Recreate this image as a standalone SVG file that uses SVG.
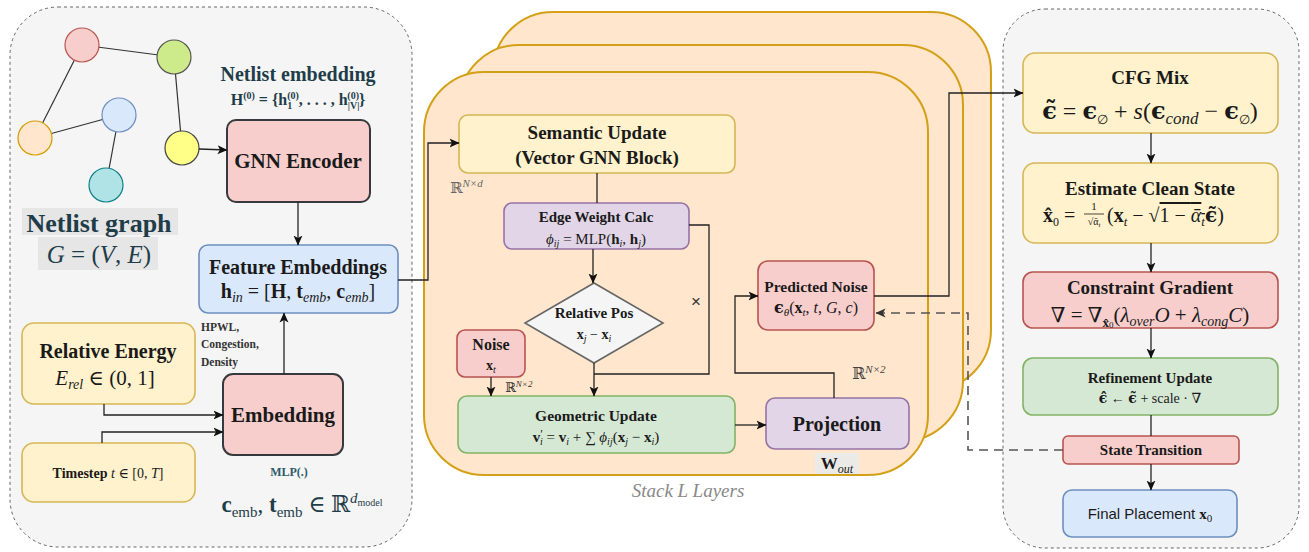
<svg xmlns="http://www.w3.org/2000/svg" width="1309" height="552" viewBox="0 0 1309 552">
<style>
.t{font-family:"Liberation Serif","DejaVu Serif",serif;fill:#1a1a1a}
.b{font-weight:bold}
.c{text-anchor:middle}
.i{font-style:italic}
.e{font-family:"DejaVu Serif",serif;font-weight:bold}
.sans{font-family:"Liberation Sans","DejaVu Sans",sans-serif;fill:#1a1a1a}
.panel{fill:#f5f5f5;stroke:#666;stroke-width:1;stroke-dasharray:3 3}
.layer{fill:#ffe6cc;stroke:#d4a017;stroke-width:2}
.yel{fill:#fff2cc;stroke:#d6b656;stroke-width:1.6}
.red{fill:#f8cecc;stroke:#b85450;stroke-width:1.6}
.redk{fill:#f8cecc;stroke:#36393d;stroke-width:2}
.blu{fill:#dae8fc;stroke:#6c8ebf;stroke-width:1.6}
.grn{fill:#d5e8d4;stroke:#82b366;stroke-width:1.6}
.pur{fill:#e1d5e7;stroke:#9673a6;stroke-width:1.6}
.edge{stroke:#333;stroke-width:1.2;fill:none}
.con{stroke:#222;stroke-width:1.3;fill:none}
.arr{marker-end:url(#ah)}
.dash{stroke:#555;stroke-width:1.6;fill:none;stroke-dasharray:9 6}
.teal{fill:#1f3d49}
</style>
<defs>
<marker id="ah" markerUnits="userSpaceOnUse" markerWidth="10" markerHeight="10" viewBox="0 0 10 10" refX="9.5" refY="5" orient="auto">
<path d="M0,0.5 L10,5 L0,9.5 L2.5,5 z" fill="#111"/>
</marker>
<marker id="ahd" markerUnits="userSpaceOnUse" markerWidth="10" markerHeight="10" viewBox="0 0 10 10" refX="9.5" refY="5" orient="auto">
<path d="M0,0.5 L10,5 L0,9.5 L2.5,5 z" fill="#333"/>
</marker>
</defs>

<!-- panels -->
<g id="left-panel"><rect class="panel" x="10" y="7" width="402" height="540" rx="48"/></g>
<g id="right-panel"><rect class="panel" x="1003" y="9" width="296" height="539" rx="42"/></g>

<!-- stacked layers -->
<g id="layers">
<rect class="layer" x="493" y="12" width="498" height="378" rx="60"/>
<rect class="layer" x="459" y="45" width="504" height="396" rx="60"/>
<rect class="layer" x="424" y="72" width="504" height="403" rx="60"/>
<text class="t i c" x="688" y="497" font-size="19" style="fill:#888">Stack L Layers</text>
</g>

<!-- netlist graph -->
<g id="netlist-graph">
<line class="edge" x1="82" y1="45" x2="174" y2="57"/>
<line class="edge" x1="82" y1="45" x2="35" y2="138"/>
<line class="edge" x1="35" y1="138" x2="119" y2="115"/>
<line class="edge" x1="119" y1="115" x2="106" y2="185"/>
<line class="edge" x1="174" y1="57" x2="182" y2="148"/>
<circle cx="82" cy="45" r="17" fill="#f8cecc" stroke="#b85450" stroke-width="1.2"/>
<circle cx="174" cy="57" r="17" fill="#cdeb8b" stroke="#555" stroke-width="1.2"/>
<circle cx="119" cy="115" r="17" fill="#dae8fc" stroke="#6c8ebf" stroke-width="1.2"/>
<circle cx="35" cy="138" r="17" fill="#ffe6cc" stroke="#d79b00" stroke-width="1.2"/>
<circle cx="182" cy="148" r="17" fill="#ffff88" stroke="#444" stroke-width="1.2"/>
<circle cx="106" cy="185" r="17" fill="#b0e3e6" stroke="#0e8088" stroke-width="1.2"/>
<rect x="22" y="208" width="156" height="27" fill="#e6e6e6"/>
<text class="t b c teal" x="99" y="232" font-size="26">Netlist graph</text>
<rect x="38" y="237" width="120" height="33" fill="#e6e6e6"/>
<text class="t c teal" x="99" y="263" font-size="25"><tspan class="i">G</tspan> = (<tspan class="i">V</tspan>, <tspan class="i">E</tspan>)</text>
</g>

<g id="netlist-embedding-label">
<text class="t b c teal" x="298" y="81" font-size="20">Netlist embedding</text>
<text class="t b c teal" x="298" y="105" font-size="16">H<tspan font-size="10" baseline-shift="6">(0)</tspan> = {h<tspan font-size="10" baseline-shift="-4">1</tspan><tspan font-size="10" dx="-5" baseline-shift="6">(0)</tspan>, . . . , h<tspan font-size="10" baseline-shift="-4">|V|</tspan><tspan font-size="10" dx="-12" baseline-shift="6">(0)</tspan>}</text>
</g>

<g id="gnn-encoder">
<rect class="redk" x="227" y="120" width="143" height="82" rx="9"/>
<text class="t b c" x="298" y="168" font-size="21">GNN Encoder</text>
</g>

<g id="feature-embeddings">
<rect class="blu" x="199" y="245" width="199" height="68" rx="9"/>
<text class="t b c" x="298" y="274" font-size="20">Feature Embeddings</text>
<text class="t c" x="298" y="298" font-size="20"><tspan class="b">h</tspan><tspan class="i" font-size="14" baseline-shift="-4">in</tspan> = [<tspan class="b">H</tspan>, <tspan class="b">t</tspan><tspan class="i" font-size="14" baseline-shift="-4">emb</tspan>, <tspan class="b">c</tspan><tspan class="i" font-size="14" baseline-shift="-4">emb</tspan>]</text>
</g>

<g id="relative-energy">
<rect class="yel" x="22" y="323" width="173" height="81" rx="12"/>
<text class="t b c" x="108" y="358" font-size="20">Relative Energy</text>
<text class="t c" x="105" y="385" font-size="21"><tspan class="i">E</tspan><tspan class="i" font-size="14" baseline-shift="-4">rel</tspan> ∈ (0, 1]</text>
</g>

<g id="timestep">
<rect class="yel" x="22" y="443" width="173" height="59" rx="12"/>
<text class="t b c" x="108" y="478" font-size="14">Timestep <tspan class="i" font-weight="normal">t</tspan> <tspan font-weight="normal">∈ [0, <tspan class="i">T</tspan>]</tspan></text>
</g>

<g id="embedding">
<rect class="redk" x="223" y="374" width="120" height="81" rx="10"/>
<text class="t b c" x="283" y="422" font-size="21">Embedding</text>
</g>

<g id="embedding-labels">
<text class="t b" x="201" y="331" font-size="11.5" style="fill:#333">HPWL,</text>
<text class="t b" x="201" y="348" font-size="11.5" style="fill:#333">Congestion,</text>
<text class="t b" x="201" y="366" font-size="11.5" style="fill:#333">Density</text>
<text class="t b c" x="289" y="476" font-size="12" style="fill:#2f5b6b">MLP(.)</text>
<text class="t c teal" x="302" y="512" font-size="23"><tspan class="b">c</tspan><tspan font-size="15" baseline-shift="-5">emb</tspan>, <tspan class="b">t</tspan><tspan font-size="15" baseline-shift="-5">emb</tspan> ∈ ℝ<tspan class="i" font-size="15" baseline-shift="9">d</tspan><tspan font-size="10" baseline-shift="6">model</tspan></text>
</g>

<g id="semantic-update">
<rect class="yel" x="459" y="115" width="276" height="58" rx="9"/>
<text class="t b c" x="597" y="139" font-size="19">Semantic Update</text>
<text class="t b c" x="597" y="164" font-size="19">(Vector GNN Block)</text>
</g>
<text class="t" x="450" y="193" font-size="15" style="fill:#666">ℝ<tspan class="i" font-size="11" baseline-shift="6">N×d</tspan></text>

<g id="edge-weight">
<rect class="pur" x="504" y="203" width="185" height="46" rx="8"/>
<text class="t b c" x="596" y="222" font-size="15">Edge Weight Calc</text>
<text class="t c" x="596" y="244" font-size="15"><tspan class="i">ϕ</tspan><tspan class="i" font-size="10" baseline-shift="-3">ij</tspan> = MLP(<tspan class="b">h</tspan><tspan class="i" font-size="10" baseline-shift="-3">i</tspan>, <tspan class="b">h</tspan><tspan class="i" font-size="10" baseline-shift="-3">j</tspan>)</text>
</g>

<g id="relative-pos">
<polygon points="594,283 663,323 594,363 525,323" fill="#f5f5f5" stroke="#666" stroke-width="1.6"/>
<text class="t b c" x="594" y="318" font-size="15">Relative Pos</text>
<text class="t c" x="594" y="339" font-size="14"><tspan class="b">x</tspan><tspan class="i" font-size="10" baseline-shift="-3">j</tspan> − <tspan class="b">x</tspan><tspan class="i" font-size="10" baseline-shift="-3">i</tspan></text>
</g>

<g id="noise">
<rect class="red" x="457" y="330" width="68" height="47" rx="8"/>
<text class="t b c" x="491" y="350" font-size="16">Noise</text>
<text class="t c" x="491" y="370" font-size="14"><tspan class="b">x</tspan><tspan class="i" font-size="10" baseline-shift="-3">t</tspan></text>
</g>
<text class="t" x="505" y="392" font-size="13" style="fill:#333">ℝ<tspan class="i" font-size="9" baseline-shift="5">N×2</tspan></text>

<g id="geometric-update">
<rect class="grn" x="458" y="396" width="277" height="57" rx="9"/>
<text class="t b c" x="596" y="421" font-size="15.5">Geometric Update</text>
<text class="t c" x="596" y="442" font-size="15"><tspan class="b">v</tspan><tspan font-size="12" baseline-shift="4">′</tspan><tspan class="i" font-size="10" dx="-3" baseline-shift="-3">i</tspan> = <tspan class="b">v</tspan><tspan class="i" font-size="10" baseline-shift="-3">i</tspan> + ∑ <tspan class="i">ϕ</tspan><tspan class="i" font-size="10" baseline-shift="-3">ij</tspan>(<tspan class="b">x</tspan><tspan class="i" font-size="10" baseline-shift="-3">j</tspan> − <tspan class="b">x</tspan><tspan class="i" font-size="10" baseline-shift="-3">i</tspan>)</text>
</g>

<g id="projection">
<rect class="pur" x="766" y="398" width="143" height="51" rx="9"/>
<text class="t b c" x="837" y="431" font-size="20">Projection</text>
<rect x="815" y="453" width="44" height="21" fill="#eceae6"/>
<text class="t c" x="837" y="469" font-size="17"><tspan class="b">W</tspan><tspan class="i" font-size="12" baseline-shift="-4">out</tspan></text>
</g>
<text class="t" x="852" y="379" font-size="16" style="fill:#444">ℝ<tspan class="i" font-size="11" baseline-shift="6">N×2</tspan></text>

<g id="predicted-noise">
<rect class="red" x="758" y="261" width="116" height="69" rx="10"/>
<text class="t b c" x="816" y="292" font-size="15.5">Predicted Noise</text>
<text class="t c" x="816" y="313" font-size="16"><tspan class="e">ϵ</tspan><tspan class="i" font-size="11" baseline-shift="-3">θ</tspan>(<tspan class="b">x</tspan><tspan class="i" font-size="11" baseline-shift="-3">t</tspan>, <tspan class="i">t</tspan>, <tspan class="i">G</tspan>, <tspan class="i">c</tspan>)</text>
</g>
<text class="sans c" x="696" y="307" font-size="17" style="fill:#333">×</text>

<g id="cfg-mix">
<rect class="yel" x="1023" y="53" width="255" height="80" rx="12"/>
<text class="t b c" x="1150" y="84" font-size="19">CFG Mix</text>
<text class="t c" x="1150" y="119" font-size="24"><tspan class="e">ϵ̃</tspan> = <tspan class="e">ϵ</tspan><tspan font-size="13" baseline-shift="-5">∅</tspan> + <tspan class="i">s</tspan>(<tspan class="e">ϵ</tspan><tspan class="i" font-size="17" baseline-shift="-5">cond</tspan> − <tspan class="e">ϵ</tspan><tspan font-size="13" baseline-shift="-5">∅</tspan>)</text>
</g>

<g id="estimate-clean-state">
<rect class="yel" x="1023" y="163" width="255" height="80" rx="12"/>
<text class="t b c" x="1150" y="195" font-size="19">Estimate Clean State</text>
<text class="t" x="1043" y="222" font-size="20"><tspan class="b">x̂</tspan><tspan font-size="12" baseline-shift="-4">0</tspan> =</text>
<text class="t c" x="1094" y="210" font-size="11">1</text>
<line x1="1084" y1="214" x2="1104" y2="214" stroke="#1a1a1a" stroke-width="0.8"/>
<text class="t c" x="1094" y="225" font-size="10">√ᾱ<tspan class="i" font-size="7" baseline-shift="-2">t</tspan></text>
<text class="t" x="1107" y="222" font-size="20">(<tspan class="b">x</tspan><tspan class="i" font-size="13" baseline-shift="-4">t</tspan> − √<tspan text-decoration="overline">1 − <tspan class="i">ᾱ</tspan><tspan class="i" font-size="13" baseline-shift="-4">t</tspan></tspan><tspan class="e">ϵ̃</tspan>)</text>
</g>

<g id="constraint-gradient">
<rect class="red" x="1023" y="272" width="255" height="56" rx="10"/>
<text class="t b c" x="1150" y="294" font-size="19">Constraint Gradient</text>
<text class="t c" x="1150" y="322" font-size="21">∇ = ∇<tspan class="b" font-size="13" baseline-shift="-5">x̂</tspan><tspan font-size="9" baseline-shift="-6">0</tspan>(<tspan class="i">λ</tspan><tspan class="i" font-size="14" baseline-shift="-4">over</tspan><tspan class="i">O</tspan> + <tspan class="i">λ</tspan><tspan class="i" font-size="14" baseline-shift="-4">cong</tspan><tspan class="i">C</tspan>)</text>
</g>

<g id="refinement-update">
<rect class="grn" x="1023" y="358" width="255" height="57" rx="10"/>
<text class="t b c" x="1150" y="383" font-size="15">Refinement Update</text>
<text class="t c" x="1150" y="403" font-size="14"><tspan class="e">ϵ̂</tspan> ← <tspan class="e">ϵ̃</tspan> + scale · ∇</text>
</g>

<g id="state-transition">
<rect class="red" x="1063" y="436" width="176" height="28" rx="5"/>
<text class="t b c" x="1151" y="455" font-size="15">State Transition</text>
</g>

<g id="final-placement">
<rect class="blu" x="1063" y="490" width="174" height="47" rx="9"/>
<text class="sans c" x="1150" y="519" font-size="15">Final Placement <tspan font-family="Liberation Serif,serif" font-weight="bold">x</tspan><tspan font-family="Liberation Serif,serif" font-size="11" baseline-shift="-3">0</tspan></text>
</g>

<!-- connectors -->
<g id="connectors">
<path class="con arr" d="M199,149 L227,150"/>
<path class="con arr" d="M298,202 L298,245"/>
<path class="con arr" d="M398,280 L428,280 L428,143 L459,143"/>
<path class="con arr" d="M284,374 L284,313"/>
<path class="con arr" d="M104,404 L104,415 L223,415"/>
<path class="con arr" d="M102,443 L102,432 L223,432"/>
<path class="con" d="M597,173 L597,203"/>
<path class="con arr" d="M593,249 L593,283"/>
<path class="con" d="M689,225 L709,225 L709,374 L594,374"/>
<path class="con arr" d="M594,363 L594,396"/>
<path class="con arr" d="M491,377 L491,396"/>
<path class="con arr" d="M735,425 L766,425"/>
<path class="con arr" d="M834,398 L834,373 L735,373 L735,296 L758,296"/>
<path class="con arr" d="M874,296 L949,296 L949,93 L1023,93"/>
<path class="con arr" d="M1151,133 L1151,163"/>
<path class="con arr" d="M1151,243 L1151,272"/>
<path class="con arr" d="M1151,328 L1151,358"/>
<path class="con" d="M1151,415 L1151,436"/>
<path class="con arr" d="M1151,464 L1151,490"/>
<path class="dash" marker-end="url(#ahd)" d="M1063,450 L968,450 L968,313 L876,313"/>
</g>
</svg>
